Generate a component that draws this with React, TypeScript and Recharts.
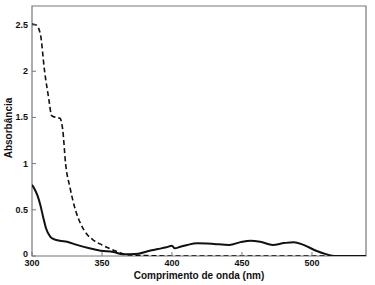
import { LineChart, Line, XAxis, YAxis, ReferenceArea } from 'recharts';

// wavelength (nm) / absorbance
const dashedNm = [300, 303, 306, 309, 312, 314, 317, 320, 322, 324, 327, 331, 335, 339, 344, 350, 358, 366, 372, 380, 400, 450, 500, 540];
const dashedAbs = [2.51, 2.5, 2.4, 2.0, 1.7, 1.52, 1.5, 1.49, 1.36, 1.0, 0.75, 0.5, 0.34, 0.24, 0.17, 0.12, 0.065, 0.02, 0.01, 0.005, 0, 0, 0, 0];

const solidNm = [300, 302, 304, 306, 308, 310, 313, 316, 320, 325, 332, 341, 349, 358, 365, 370, 376, 384, 390, 396, 400, 402, 406, 411, 418, 425, 430, 441, 449, 456, 463, 472, 480, 487, 494, 503, 510, 517, 530, 540];
const solidAbs = [0.77, 0.72, 0.65, 0.55, 0.42, 0.3, 0.21, 0.18, 0.165, 0.155, 0.12, 0.083, 0.057, 0.043, 0.02, 0.02, 0.025, 0.057, 0.075, 0.094, 0.11, 0.083, 0.1, 0.12, 0.137, 0.135, 0.13, 0.12, 0.15, 0.166, 0.155, 0.12, 0.14, 0.15, 0.12, 0.057, 0.02, 0, 0, 0];

const xTicks = [300, 350, 400, 450, 500];
const yTicks = [0, 0.5, 1, 1.5, 2, 2.5];
const xDomain = [300, 538.6];
const yDomain = [0, 2.706];

const dashed = dashedNm.map((x, i) => ({ x, y: dashedAbs[i] }));
const solid = solidNm.map((x, i) => ({ x, y: solidAbs[i] }));

const font = 'Liberation Sans, Arial, sans-serif';
const ink = '#111';
const frameColor = '#777';

// inward tick marks drawn as paths, labels next to them
const BottomTick = ({ x, y, payload }: any) => (
  <g>
    <path d={`M${x},${y}V${y - 4}`} stroke={frameColor} />
    <text x={x} y={y + 9.5} textAnchor="middle" fill={ink} fontSize={9} fontWeight="bold" fontFamily={font}>{payload.value}</text>
  </g>
);
const LeftTick = ({ x, y, payload }: any) => (
  <g>
    <path d={`M${x},${y}H${x + 4}`} stroke={frameColor} />
    <text x={x - 4} y={payload.value === 0 ? y + 1 : y + 3} textAnchor="end" fill={ink} fontSize={9} fontWeight="bold" fontFamily={font}>{payload.value}</text>
  </g>
);
const TopTick = ({ x, y }: any) => <path d={`M${x},${y}V${y + 4}`} stroke={frameColor} />;
const RightTick = ({ x, y }: any) => <path d={`M${x},${y}H${x - 4}`} stroke={frameColor} />;

export default function App() {
  return (
    <div style={{ position: 'absolute', left: 0, top: 0, background: '#fff' }}>
      <LineChart width={375} height={285} margin={{ top: 6, right: 9, bottom: 15, left: 8 }}>
        <XAxis xAxisId="b" dataKey="x" type="number" domain={xDomain} ticks={xTicks} allowDataOverflow
          tick={<BottomTick />} tickSize={0} tickMargin={0} tickLine={false} axisLine={false} height={14}
          label={{ value: 'Comprimento de onda (nm)', position: 'insideBottom', offset: -9, style: { fill: ink, fontSize: 10, fontWeight: 'bold', fontFamily: font } }} />
        <XAxis xAxisId="t" orientation="top" type="number" domain={xDomain} ticks={xTicks} allowDataOverflow
          tick={<TopTick />} tickSize={0} tickMargin={0} tickLine={false} axisLine={false} height={0} />
        <YAxis yAxisId="l" type="number" domain={yDomain} ticks={yTicks} allowDataOverflow
          tick={<LeftTick />} tickSize={0} tickMargin={0} tickLine={false} axisLine={false} width={24}
          label={{ value: 'Absorbância', angle: -90, position: 'insideLeft', offset: 0, dy: -3, style: { fill: ink, fontSize: 10, fontWeight: 'bold', fontFamily: font, textAnchor: 'middle' } }} />
        <YAxis yAxisId="r" orientation="right" type="number" domain={yDomain} ticks={yTicks} allowDataOverflow
          tick={<RightTick />} tickSize={0} tickMargin={0} tickLine={false} axisLine={false} width={0} />
        <ReferenceArea xAxisId="b" yAxisId="l" x1={xDomain[0]} x2={xDomain[1]} y1={yDomain[0]} y2={yDomain[1]}
          fill="none" stroke={frameColor} strokeWidth={1.2} fillOpacity={0} strokeOpacity={1} ifOverflow="visible" />
        <Line xAxisId="b" yAxisId="l" data={dashed} dataKey="y" type="monotone" stroke={ink} strokeWidth={1.6}
          strokeDasharray="5 3" dot={false} isAnimationActive={false} />
        <Line xAxisId="b" yAxisId="l" data={solid} dataKey="y" type="monotone" stroke={ink} strokeWidth={2}
          dot={false} isAnimationActive={false} />
      </LineChart>
    </div>
  );
}
